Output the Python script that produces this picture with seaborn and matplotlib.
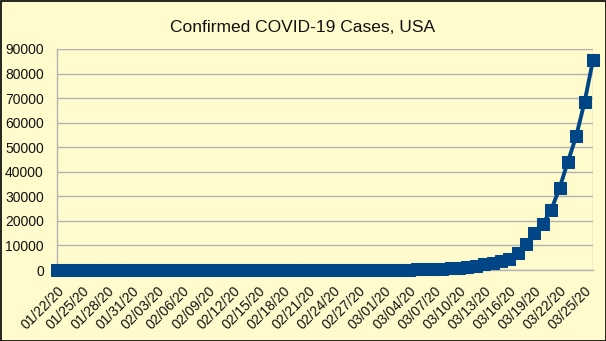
import numpy as np
import pandas as pd
import matplotlib
matplotlib.use("Agg")
import matplotlib.pyplot as plt
import seaborn as sns
from matplotlib.patches import Rectangle

dates = pd.date_range("2020-01-22", "2020-03-26", freq="D")
date_labels = [d.strftime("%m/%d/%y") for d in dates]

cases = [1, 1, 2, 2, 5, 5, 5, 5, 5, 7,            # 01/22 - 01/31
         8, 8, 11, 11, 11, 11, 11, 11, 11, 11,    # 02/01 - 02/10
         12, 12, 13, 13, 13, 13, 13, 13, 13, 13,  # 02/11 - 02/20
         15, 15, 15, 51, 51, 57, 58, 60, 68,      # 02/21 - 02/29
         75, 100, 125, 160, 230, 320, 440, 540, 700, 990,   # 03/01 - 03/10
         1300, 1700, 2250, 2900, 3500, 4500, 6800, 10500,  # 03/11 - 03/18
         15000, 18800, 24400, 33300, 44100, 54600, 68500, 85500]  # 03/19 - 03/26

y_ticks = list(range(0, 90001, 10000))
title = "Confirmed COVID-19 Cases, USA"

bg = "#FFFBCC"
line_color = "#004586"
grid_color = "#B3B3B3"

sns.set_theme(style="white")
plt.rcParams["font.family"] = ["Liberation Sans", "DejaVu Sans"]

fig = plt.figure(figsize=(6.06, 3.41), dpi=100, facecolor=bg)
ax = fig.add_axes([57/606, 1-270/341, (593-57)/606, (270-49)/341])
ax.set_facecolor(bg)

df = pd.DataFrame({"idx": np.arange(len(cases)), "cases": cases})
sns.lineplot(data=df, x="idx", y="cases", ax=ax, color=line_color, linewidth=2.8,
             marker="s", markersize=8.5, markeredgecolor=line_color, clip_on=False, zorder=5)

ax.set_xlim(0, len(cases) - 1)
ax.set_ylim(0, 90000)
ax.set_yticks(y_ticks)
ax.set_yticklabels([str(v) for v in y_ticks], fontsize=10, color="#111111")
ax.set_xticks(np.arange(len(cases)), minor=True)
major = np.arange(0, len(cases), 3)
ax.set_xticks(major)
ax.set_xticklabels([date_labels[i] for i in major], rotation=45, ha="right",
                   rotation_mode="anchor", fontsize=10, color="#111111")
ax.set_xlabel("")
ax.set_ylabel("")
ax.grid(axis="y", color=grid_color, linewidth=1)
ax.set_axisbelow(True)
for s in ["top", "right"]:
    ax.spines[s].set_visible(False)
for s in ["left", "bottom"]:
    ax.spines[s].set_color(grid_color)
    ax.spines[s].set_linewidth(1)
ax.tick_params(axis="both", which="both", direction="out", color=grid_color, width=1)
ax.tick_params(axis="y", length=8, pad=1.5)
ax.tick_params(axis="x", which="major", length=6, pad=4)
ax.tick_params(axis="x", which="minor", length=6)
ax.plot([len(cases)-1, len(cases)-1], [0, 90000], color=grid_color, linewidth=1, zorder=1)

fig.text(0.5, 1-27/341, title, ha="center", va="center", fontsize=12.5, color="#111111")
fig.patches.append(Rectangle((0.5/606, 0.5/341), 1-1/606, 1-1/341, transform=fig.transFigure,
                             fill=False, edgecolor="black", linewidth=1.2, zorder=10))

fig.savefig("out.png", dpi=100, facecolor=bg)
